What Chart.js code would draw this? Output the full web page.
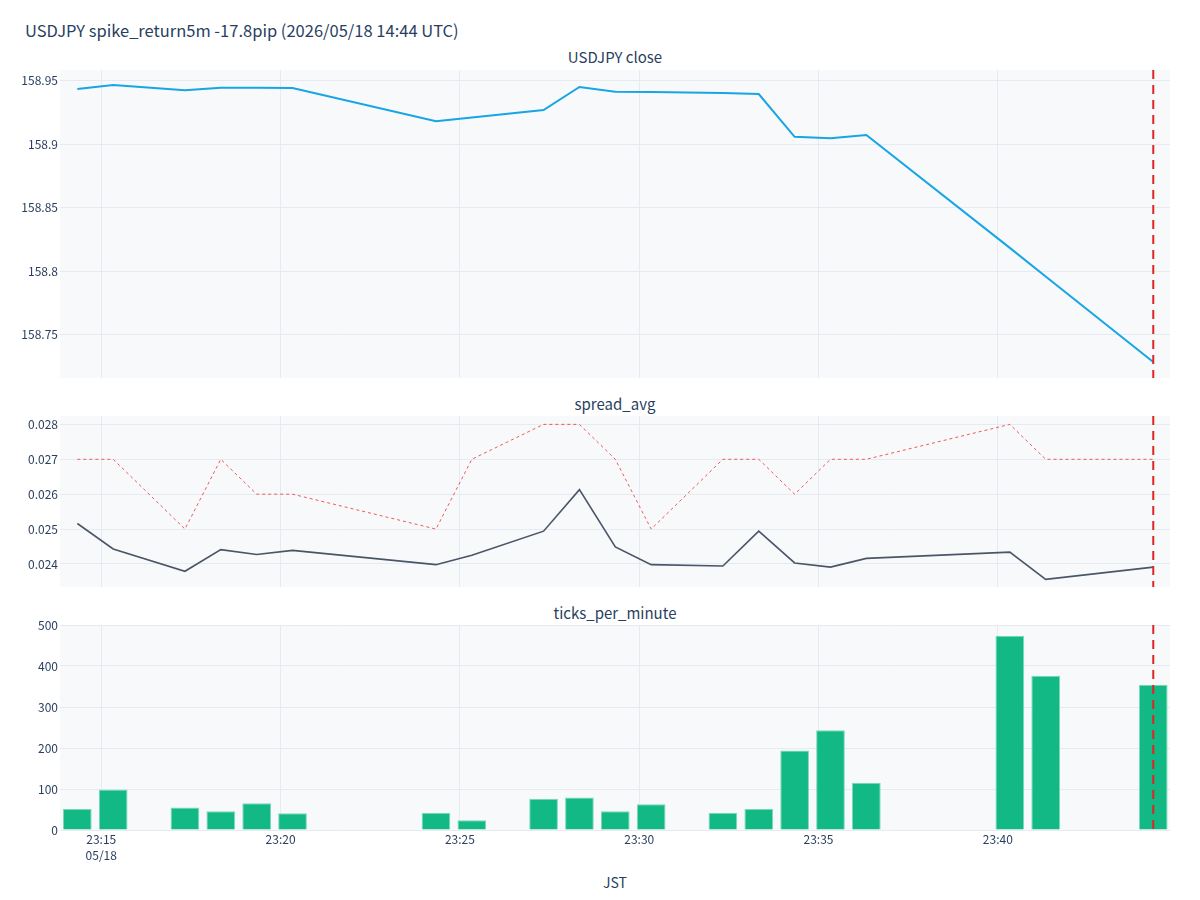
<!DOCTYPE html>
<html>
<head>
<meta charset="utf-8">
<script src="https://cdn.jsdelivr.net/npm/chart.js@4/dist/chart.umd.min.js"></script>
<style>
  body { margin: 0; background: #fff; font-family: "Noto Sans CJK JP", "Noto Sans", sans-serif; color: #2a3f5f; }
  #wrap { position: relative; width: 1200px; height: 900px; }
  canvas { position: absolute; left: 0; }
  .title { position: absolute; left: 25px; top: 18px; font-size: 16.5px; white-space: nowrap; }
  .sub { position: absolute; left: 60px; width: 1110px; text-align: center; font-size: 15px; line-height: 20px; }
  .xlabel { position: absolute; left: 60px; width: 1110px; text-align: center; font-size: 14px; top: 872px; }
</style>
</head>
<body>
<div id="wrap">
  <div class="title">USDJPY spike_return5m -17.8pip (2026/05/18 14:44 UTC)</div>
  <div class="sub" style="top:47px">USDJPY close</div>
  <div class="sub" style="top:394px">spread_avg</div>
  <div class="sub" style="top:603px">ticks_per_minute</div>
  <div class="xlabel">JST</div>
  <canvas id="closeChart" width="1200" height="318" style="top:60px"></canvas>
  <canvas id="spreadChart" width="1200" height="181" style="top:406px"></canvas>
  <canvas id="ticksChart" width="1200" height="260" style="top:615px"></canvas>
</div>
<script>
// JST times of each one-minute sample
const times = [
  '23:14:20', '23:15:20', '23:17:20', '23:18:20', '23:19:20', '23:20:20',
  '23:24:20', '23:25:20', '23:27:20', '23:28:20', '23:29:20', '23:30:20',
  '23:32:20', '23:33:20', '23:34:20', '23:35:20', '23:36:20', '23:40:20',
  '23:41:20', '23:44:20'
];
const closeValues = [
  158.9435, 158.9466, 158.9424, 158.9445, 158.9445, 158.9442,
  158.918, 158.921, 158.9269, 158.945, 158.9413, 158.941,
  158.9403, 158.9395, 158.9058, 158.9046, 158.9072, 158.8183,
  158.7957, 158.7284
];
const spreadAvg = [
  0.02516, 0.02443, 0.02379, 0.02441, 0.02427, 0.02439,
  0.02398, 0.02425, 0.02494, 0.02613, 0.02449, 0.02398,
  0.02394, 0.02494, 0.02403, 0.02391, 0.02416, 0.02434,
  0.02356, 0.02391
];
const spreadMax = [
  0.027, 0.027, 0.025, 0.027, 0.026, 0.026,
  0.025, 0.027, 0.028, 0.028, 0.027, 0.025,
  0.027, 0.027, 0.026, 0.027, 0.027, 0.028,
  0.027, 0.027
];
const ticksPerMinute = [
  51, 99, 55, 46, 65, 41,
  42, 24, 76, 79, 46, 63,
  42, 51, 194, 243, 115, 474,
  376, 354
];
const spikeTime = '23:44:20';
const dateLabel = '05/18';

const xTicks = [15, 20, 25, 30, 35, 40];
const closeTicks = [158.75, 158.8, 158.85, 158.9, 158.95];
const spreadTicks = [0.024, 0.025, 0.026, 0.027, 0.028];
const countTicks = [0, 100, 200, 300, 400, 500];

const FONT = '"Noto Sans CJK JP", "Noto Sans", sans-serif';
const TEXT = '#2a3f5f';
const GRID = '#e6ebf2';

function toMin(t) {
  const [h, m, s] = t.split(':').map(Number);
  return (h - 23) * 60 + m + s / 60;
}

function fmtTime(v) {
  const m = Math.round(v);
  return '23:' + String(m).padStart(2, '0');
}

function points(values) {
  return times.map((t, i) => ({ x: toMin(t), y: values[i] }));
}

const plotBg = {
  id: 'plotBg',
  beforeDraw(chart) {
    const { ctx, chartArea: a } = chart;
    ctx.save();
    ctx.fillStyle = '#f8f9fa';
    ctx.fillRect(a.left, a.top, a.width, a.height);
    ctx.restore();
  },
};

const spikeLine = {
  id: 'spikeLine',
  afterDatasetsDraw(chart) {
    const { ctx, chartArea: a } = chart;
    const x = chart.scales.x.getPixelForValue(toMin(spikeTime));
    ctx.save();
    ctx.strokeStyle = '#e02424';
    ctx.lineWidth = 2;
    ctx.setLineDash([9, 6]);
    ctx.beginPath();
    ctx.moveTo(x, a.top);
    ctx.lineTo(x, a.bottom);
    ctx.stroke();
    ctx.restore();
  },
};

function xScale(showLabels) {
  return {
    type: 'linear',
    min: 13.85,
    max: 44.8,
    offset: false,
    afterBuildTicks: (s) => { s.ticks = xTicks.map((v) => ({ value: v })); },
    afterFit: (s) => { s.height = showLabels ? 45 : 0; s.paddingLeft = 0; s.paddingRight = 0; },
    grid: { color: GRID, drawTicks: false, offset: false },
    border: { display: false },
    ticks: {
      display: showLabels,
      padding: 1,
      color: TEXT,
      font: { family: FONT, size: 12, lineHeight: 1.35 },
      maxRotation: 0,
      autoSkip: false,
      callback: (v, i) => (i === 0 ? [fmtTime(v), dateLabel] : fmtTime(v)),
    },
  };
}

function yScale(min, max, tickValues) {
  return {
    min,
    max,
    afterBuildTicks: (s) => { s.ticks = tickValues.map((v) => ({ value: v })); },
    afterFit: (s) => { s.width = 60; s.paddingTop = 0; s.paddingBottom = 0; },
    grid: { color: GRID, drawTicks: false },
    border: { display: false },
    ticks: {
      padding: 2,
      color: TEXT,
      font: { family: FONT, size: 12 },
      callback: (v) => String(v),
    },
  };
}

function baseOptions(showLabels, y) {
  return {
    responsive: false,
    animation: false,
    layout: { padding: { left: 0, right: 30, top: 10, bottom: 0 } },
    plugins: { legend: { display: false }, tooltip: { enabled: false } },
    scales: { x: xScale(showLabels), y },
  };
}

new Chart(document.getElementById('closeChart'), {
  type: 'line',
  data: {
    datasets: [
      { data: points(closeValues), borderColor: '#16a5e6', borderWidth: 2, pointRadius: 0, tension: 0 },
    ],
  },
  options: baseOptions(false, yScale(158.7158, 158.9584, closeTicks)),
  plugins: [plotBg, spikeLine],
});

new Chart(document.getElementById('spreadChart'), {
  type: 'line',
  data: {
    datasets: [
      { data: points(spreadMax), borderColor: 'rgba(240,60,60,0.85)', borderWidth: 1, borderDash: [3, 3], pointRadius: 0, tension: 0 },
      { data: points(spreadAvg), borderColor: '#4a5568', borderWidth: 1.6, pointRadius: 0, tension: 0 },
    ],
  },
  options: baseOptions(false, yScale(0.02334, 0.02824, spreadTicks)),
  plugins: [plotBg, spikeLine],
});

new Chart(document.getElementById('ticksChart'), {
  type: 'bar',
  data: {
    datasets: [
      {
        data: points(ticksPerMinute),
        backgroundColor: '#13b985',
        borderColor: '#7cd9b6',
        borderWidth: 1,
        barPercentage: 0.8,
        categoryPercentage: 1,
      },
    ],
  },
  options: baseOptions(true, yScale(0, 500, countTicks)),
  plugins: [plotBg, spikeLine],
});
</script>
</body>
</html>
